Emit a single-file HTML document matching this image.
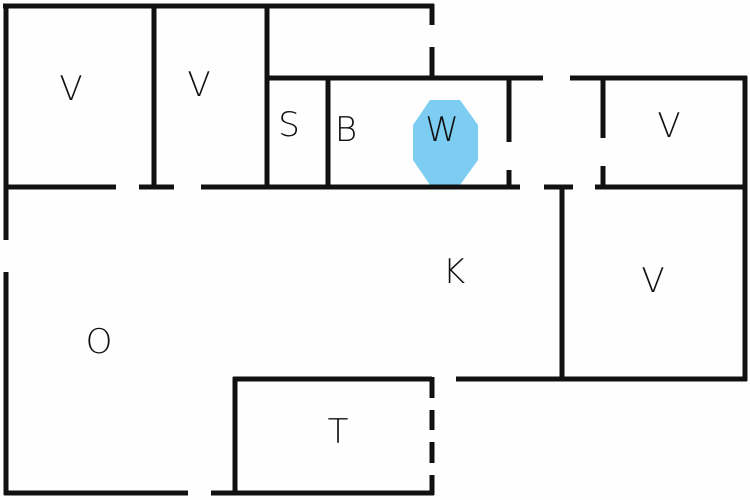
<!DOCTYPE html>
<html><head><style>
html,body{margin:0;padding:0;background:#fff;}
svg{display:block;}
text{font-family:"DejaVu Sans","Liberation Sans",sans-serif;font-size:34px;fill:#111;font-weight:300;}
</style></head><body>
<svg width="750" height="500" viewBox="0 0 750 500" xmlns="http://www.w3.org/2000/svg">
<rect width="750" height="500" fill="#fefefe"/>
<polygon points="430,100 460,100 478,125 478,160 460,185 430,185 413,160 413,125" fill="#7ccdf1"/>
<g stroke="#111" stroke-width="5" fill="none" stroke-linecap="butt">
<!-- top -->
<line x1="3" y1="6" x2="434" y2="6"/>
<line x1="432" y1="4" x2="432" y2="25"/>
<line x1="432" y1="47" x2="432" y2="80"/>
<!-- left -->
<line x1="6" y1="4" x2="6" y2="240"/>
<line x1="6" y1="272" x2="6" y2="495"/>
<!-- verticals top -->
<line x1="154" y1="4" x2="154" y2="188"/>
<line x1="267" y1="4" x2="267" y2="188"/>
<line x1="328" y1="78" x2="328" y2="188"/>
<!-- y=78 -->
<line x1="265" y1="78" x2="543" y2="78"/>
<line x1="570" y1="78" x2="747" y2="78"/>
<line x1="745" y1="76" x2="745" y2="381"/>
<!-- y=187 -->
<line x1="4" y1="187" x2="116" y2="187"/>
<line x1="139" y1="187" x2="174" y2="187"/>
<line x1="201" y1="187" x2="520" y2="187"/>
<line x1="544" y1="187" x2="573" y2="187"/>
<line x1="595" y1="187" x2="747" y2="187"/>
<line x1="509" y1="78" x2="509" y2="142"/>
<line x1="509" y1="170" x2="509" y2="187"/>
<line x1="603" y1="78" x2="603" y2="138"/>
<line x1="603" y1="166" x2="603" y2="187"/>
<line x1="562" y1="187" x2="562" y2="379"/>
<!-- y=379 -->
<line x1="456" y1="379" x2="747" y2="379"/>
<line x1="233" y1="379" x2="432" y2="379"/>
<line x1="235" y1="377" x2="235" y2="495"/>
<line x1="432" y1="377" x2="432" y2="398"/>
<line x1="432" y1="410" x2="432" y2="430"/>
<line x1="432" y1="442" x2="432" y2="463"/>
<line x1="432" y1="475" x2="432" y2="495"/>
<!-- bottom -->
<line x1="4" y1="493" x2="188" y2="493"/>
<line x1="211" y1="493" x2="434" y2="493"/>
</g>
<g text-anchor="middle">
<text x="71" y="100">V</text>
<text x="199" y="96">V</text>
<text x="289" y="136">S</text>
<text x="346" y="141">B</text>
<text x="442" y="141">W</text>
<text x="669" y="137">V</text>
<text x="454" y="283">K</text>
<text x="653" y="292">V</text>
<text x="99" y="353">O</text>
<text x="338" y="443">T</text>
</g>
</svg>
</body></html>
